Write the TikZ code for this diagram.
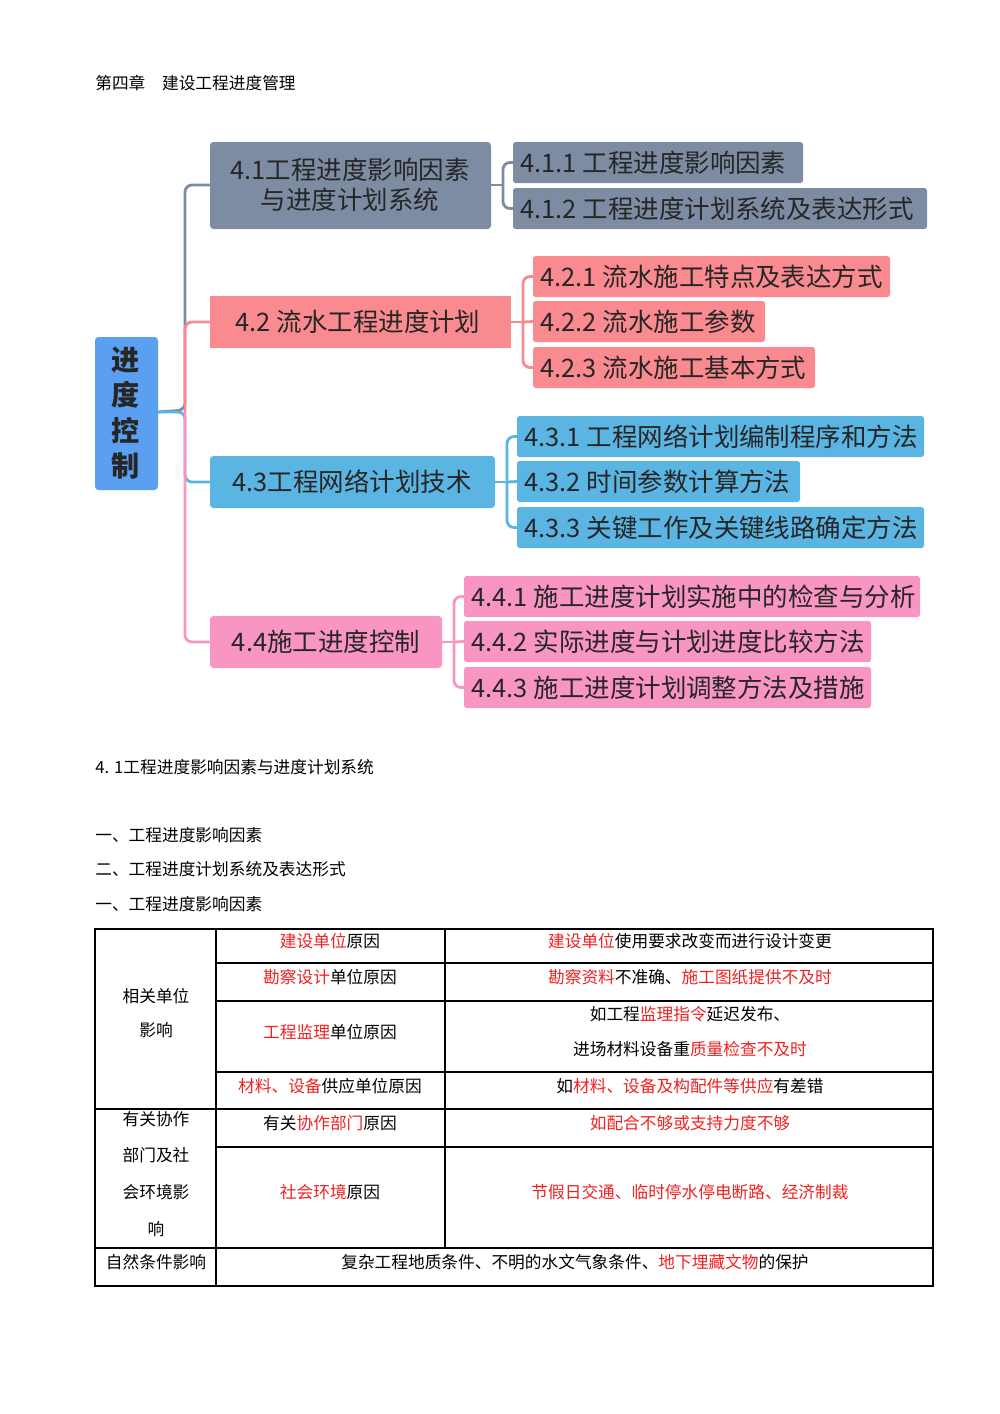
\documentclass[tikz,border=0pt]{standalone}
\usepackage{fontspec}
\setmainfont{Noto Sans CJK SC}
\definecolor{cgray}{HTML}{7D8CA3}
\definecolor{csal}{HTML}{F98A90}
\definecolor{cblu}{HTML}{5BB5E2}
\definecolor{cpink}{HTML}{F895C2}
\definecolor{croot}{HTML}{5A9FF0}
\definecolor{tred}{HTML}{F02020}
\begin{document}
\begin{tikzpicture}[x=0.02cm,y=-0.02cm,
 box/.style={inner sep=0,font=\fontsize{14.5}{17}\selectfont,text=black!85},
 tx/.style={font=\fontsize{9.5}{11}\selectfont,inner sep=0},
 ln/.style={line width=1.6pt,rounded corners=4pt}]
\useasboundingbox (0,0) rectangle (1000,1414);
% root
\fill[croot,rounded corners=2pt] (95,337) rectangle (158,490);
\node[font=\bfseries\fontsize{16}{20}\selectfont,align=center,text=black!85] (root) at (126,413) {进\\度\\控\\制};
% main boxes
\fill[cgray,rounded corners=2pt] (210,142) rectangle (491,229);
\node[box,align=center] (a) at (350,185) {4.1工程进度影响因素\\与进度计划系统};
\fill[csal] (210,296) rectangle (511,348);
\node[box] (b) at (358,322) {4.2 流水工程进度计划};
\fill[cblu,rounded corners=2pt] (210,456) rectangle (495,508);
\node[box] (c) at (352,482) {4.3工程网络计划技术};
\fill[cpink,rounded corners=2pt] (210,616) rectangle (442,668);
\node[box] (d) at (326,642) {4.4施工进度控制};
% sub boxes
\newcommand\subbox[6]{\fill[#6,rounded corners=1.5pt] (#1,#3) rectangle (#2,#4);
 \node[box,anchor=west] at (#1+7,{(#3+#4)/2}) {#5};\coordinate (s#1x#3) at (#1,{(#3+#4)/2});}
\subbox{513}{803}{142}{183}{4.1.1 工程进度影响因素}{cgray}
\subbox{513}{927}{188}{229}{4.1.2 工程进度计划系统及表达形式}{cgray}
\subbox{533}{890}{256}{297}{4.2.1 流水施工特点及表达方式}{csal}
\subbox{533}{765}{301}{342}{4.2.2 流水施工参数}{csal}
\subbox{533}{815}{347}{388}{4.2.3 流水施工基本方式}{csal}
\subbox{517}{924}{416}{457}{4.3.1 工程网络计划编制程序和方法}{cblu}
\subbox{517}{800}{461}{502}{4.3.2 时间参数计算方法}{cblu}
\subbox{517}{924}{507}{548}{4.3.3 关键工作及关键线路确定方法}{cblu}
\subbox{464}{920}{576}{617}{4.4.1 施工进度计划实施中的检查与分析}{cpink}
\subbox{464}{871}{621}{662}{4.4.2 实际进度与计划进度比较方法}{cpink}
\subbox{464}{871}{667}{708}{4.4.3 施工进度计划调整方法及措施}{cpink}
% trunk connectors
\draw[ln,cgray] (158,412) -- (185,410) |- (210,185);
\draw[ln,csal] (185,412) |- (210,322);
\draw[ln,cblu] (158,412) -- (185,412) |- (210,482);
\draw[ln,cpink] (185,412) |- (210,642);
% sub connectors
\draw[ln,cgray] (491,185) -- (503,185); \draw[ln,cgray] (s513x142) -| (503,185) |- (s513x188);
\draw[ln,csal] (511,322) -- (523,322); \draw[ln,csal] (s533x256) -| (523,322) |- (s533x347); \draw[ln,csal] (523,322) -- (s533x301);
\draw[ln,cblu] (495,482) -- (507,482); \draw[ln,cblu] (s517x416) -| (507,482) |- (s517x507); \draw[ln,cblu] (507,482) -- (s517x461);
\draw[ln,cpink] (442,642) -- (454,642); \draw[ln,cpink] (s464x576) -| (454,642) |- (s464x667); \draw[ln,cpink] (454,642) -- (s464x621);
% texts
\node[tx,anchor=west] (h1) at (95,83) {第四章\quad 建设工程进度管理};
\node[tx,anchor=west] (h2) at (95,767) {4. 1工程进度影响因素与进度计划系统};
\node[tx,anchor=west] (h3) at (95,835) {一、工程进度影响因素};
\node[tx,anchor=west] (h4) at (95,869) {二、工程进度计划系统及表达形式};
\node[tx,anchor=west] (h5) at (95,904) {一、工程进度影响因素};
% table
\begin{scope}[line width=1.2pt]
\draw (95,929) rectangle (933,1286);
\draw (216,929) -- (216,1286);
\draw (445,929) -- (445,1248);
\foreach \y in {963,1001,1072} \draw (216,\y) -- (933,\y);
\draw (95,1109) -- (933,1109);
\draw (216,1147) -- (933,1147);
\draw (95,1248) -- (933,1248);
\end{scope}
\node[tx] (t1) at (156,996) {相关单位};
\node[tx] (t2) at (156,1030) {影响};
\node[tx,align=center] (t3) at (156,1174) {有关协作\\[10pt]部门及社\\[10pt]会环境影\\[10pt]响};
\node[tx] (t4) at (156,1262) {自然条件影响};
\node[tx] at (330,941) {\color{tred}建设单位\color{black}原因};
\node[tx] at (690,941) {\color{tred}建设单位\color{black}使用要求改变而进行设计变更};
\node[tx] at (330,977) {\color{tred}勘察设计\color{black}单位原因};
\node[tx] at (690,977) {\color{tred}勘察资料\color{black}不准确、\color{tred}施工图纸提供不及时};
\node[tx] at (330,1032) {\color{tred}工程监理\color{black}单位原因};
\node[tx] at (690,1014) {如工程\color{tred}监理指令\color{black}延迟发布、};
\node[tx] at (690,1049) {进场材料设备重\color{tred}质量检查不及时};
\node[tx] at (330,1086) {\color{tred}材料、设备\color{black}供应单位原因};
\node[tx] at (690,1086) {如\color{tred}材料、设备及构配件等供应\color{black}有差错};
\node[tx] at (330,1123) {有关\color{tred}协作部门\color{black}原因};
\node[tx,text=tred] at (690,1123) {如配合不够或支持力度不够};
\node[tx,text=tred] at (330,1192) {社会环境\color{black}原因};
\node[tx,text=tred] at (690,1192) {节假日交通、临时停水停电断路、经济制裁};
\node[tx] at (575,1262) {复杂工程地质条件、不明的水文气象条件、\color{tred}地下埋藏文物\color{black}的保护};
\end{tikzpicture}
\end{document}
